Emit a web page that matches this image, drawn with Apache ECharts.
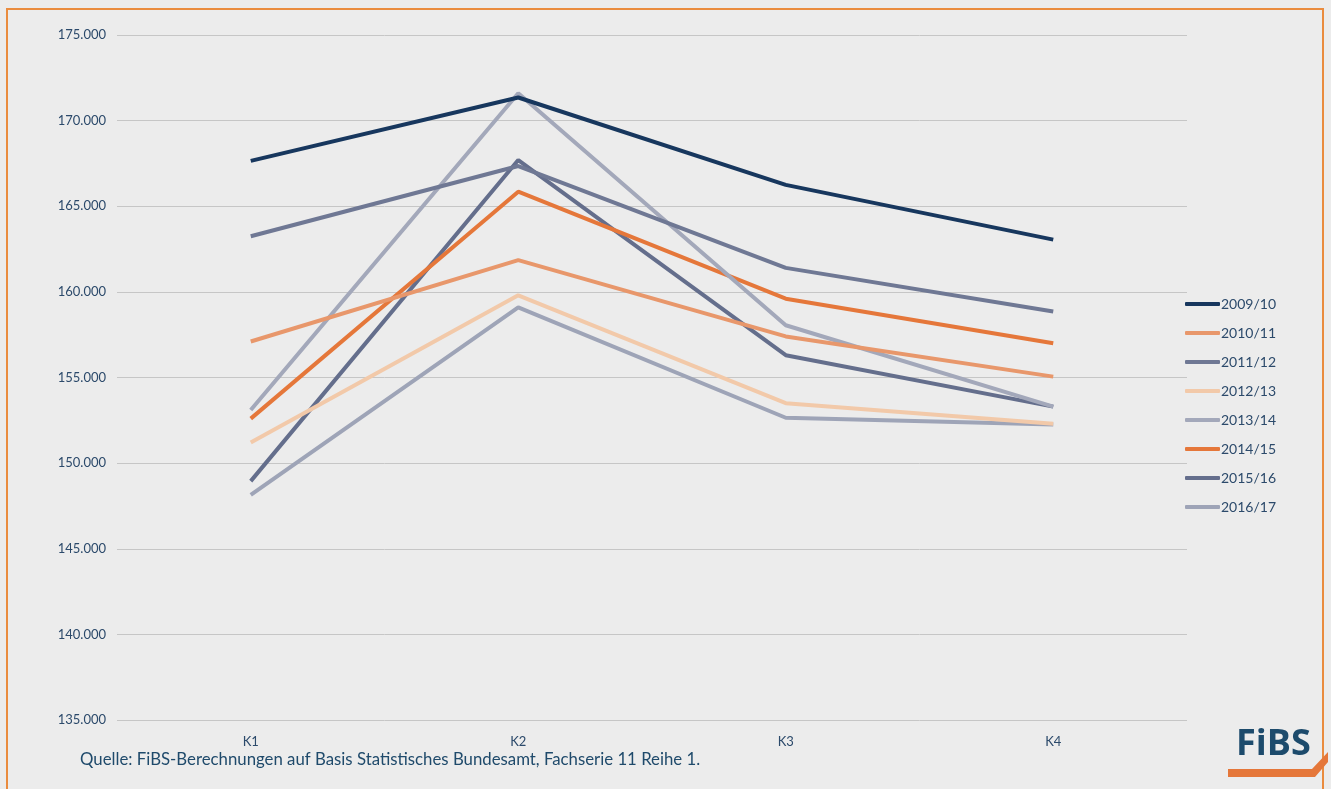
<!DOCTYPE html>
<html>
<head>
<meta charset="utf-8">
<style>
  html, body { margin: 0; padding: 0; background: #ececec; overflow: hidden; }
  #frame { position: absolute; left: 6px; top: 8px; width: 1318px; height: 800px;
           border: 2px solid #ea8c3f; border-bottom: none; box-sizing: border-box; }
  #chart { position: absolute; left: 0; top: 0; width: 1331px; height: 789px; }
</style>
<script src="https://cdn.jsdelivr.net/npm/echarts@6/dist/echarts.min.js"></script>
</head>
<body>
<div id="frame"></div>
<div id="chart"></div>
<script>
var categories = ["K1", "K2", "K3", "K4"];
var seriesNames = ["2009/10", "2010/11", "2011/12", "2012/13", "2013/14", "2014/15", "2015/16", "2016/17"];
var v2009 = [167650, 171350, 166250, 163050];
var v2010 = [157100, 161850, 157400, 155050];
var v2011 = [163250, 167350, 161400, 158850];
var v2012 = [151200, 159800, 153500, 152300];
var v2013 = [153100, 171600, 158050, 153300];
var v2014 = [152600, 165850, 159600, 157000];
var v2015 = [148950, 167700, 156300, 153300];
var v2016 = [148150, 159100, 152650, 152250];
var seriesValues = [v2009, v2010, v2011, v2012, v2013, v2014, v2015, v2016];
var seriesColors = ["#17375e", "#e8976b", "#6f7894", "#f2c9a9", "#a3a8ba", "#e5773a", "#646e8c", "#9ea4b7"];
var sourceText = "Quelle: FiBS-Berechnungen auf Basis Statistisches Bundesamt, Fachserie 11 Reihe 1.";

var textColor = "#2c4a6b";
var fontFamily = "Lato, 'Noto Sans', sans-serif";

var chartDom = document.getElementById("chart");
var myChart = echarts.init(chartDom);
var option;

option = {
  backgroundColor: "transparent",
  textStyle: { fontFamily: fontFamily },
  grid: { left: 117, right: 144, top: 35, bottom: 69 },
  legend: {
    orient: "vertical",
    left: 1180,
    top: 291,
    icon: "roundRect",
    itemWidth: 35,
    itemHeight: 4,
    itemGap: 13,
    data: seriesNames,
    textStyle: { color: textColor, fontSize: 14, lineHeight: 16, fontFamily: fontFamily, padding: [0, 0, 0, -4] }
  },
  xAxis: {
    type: "category",
    data: categories,
    axisLine: { show: false },
    axisTick: { show: false },
    axisLabel: { color: textColor, fontSize: 13, margin: 15 }
  },
  yAxis: {
    type: "value",
    min: 135000,
    max: 175000,
    interval: 5000,
    axisLine: { show: false },
    axisTick: { show: false },
    axisLabel: {
      color: textColor,
      fontSize: 13,
      margin: 11,
      formatter: function (v) {
        return String(v).replace(/\B(?=(\d{3})+(?!\d))/g, ".");
      }
    },
    splitLine: { lineStyle: { color: "#c6c6c6", width: 1 } }
  },
  graphic: [
    {
      type: "text",
      left: 80,
      top: 751,
      style: { text: sourceText, fill: "#1f4a6b", fontSize: 16.8, fontFamily: fontFamily }
    },
    {
      type: "text",
      left: 1236,
      top: 727,
      style: { text: "FiBS", fill: "#1d4b6c", fontSize: 36, fontWeight: "bold", fontFamily: "'Open Sans', sans-serif" }
    },
    {
      type: "polygon",
      shape: { points: [[1228, 769], [1312, 769], [1328, 752], [1328, 762], [1315, 777], [1228, 777]] },
      style: { fill: "#e5773a" }
    }
  ],
  series: seriesNames.map(function (name, i) {
    return {
      name: name,
      type: "line",
      data: seriesValues[i],
      symbol: "none",
      color: seriesColors[i],
      lineStyle: { width: 4, color: seriesColors[i] },
      z: 10 - i
    };
  })
};

option && myChart.setOption(option);
</script>
</body>
</html>
